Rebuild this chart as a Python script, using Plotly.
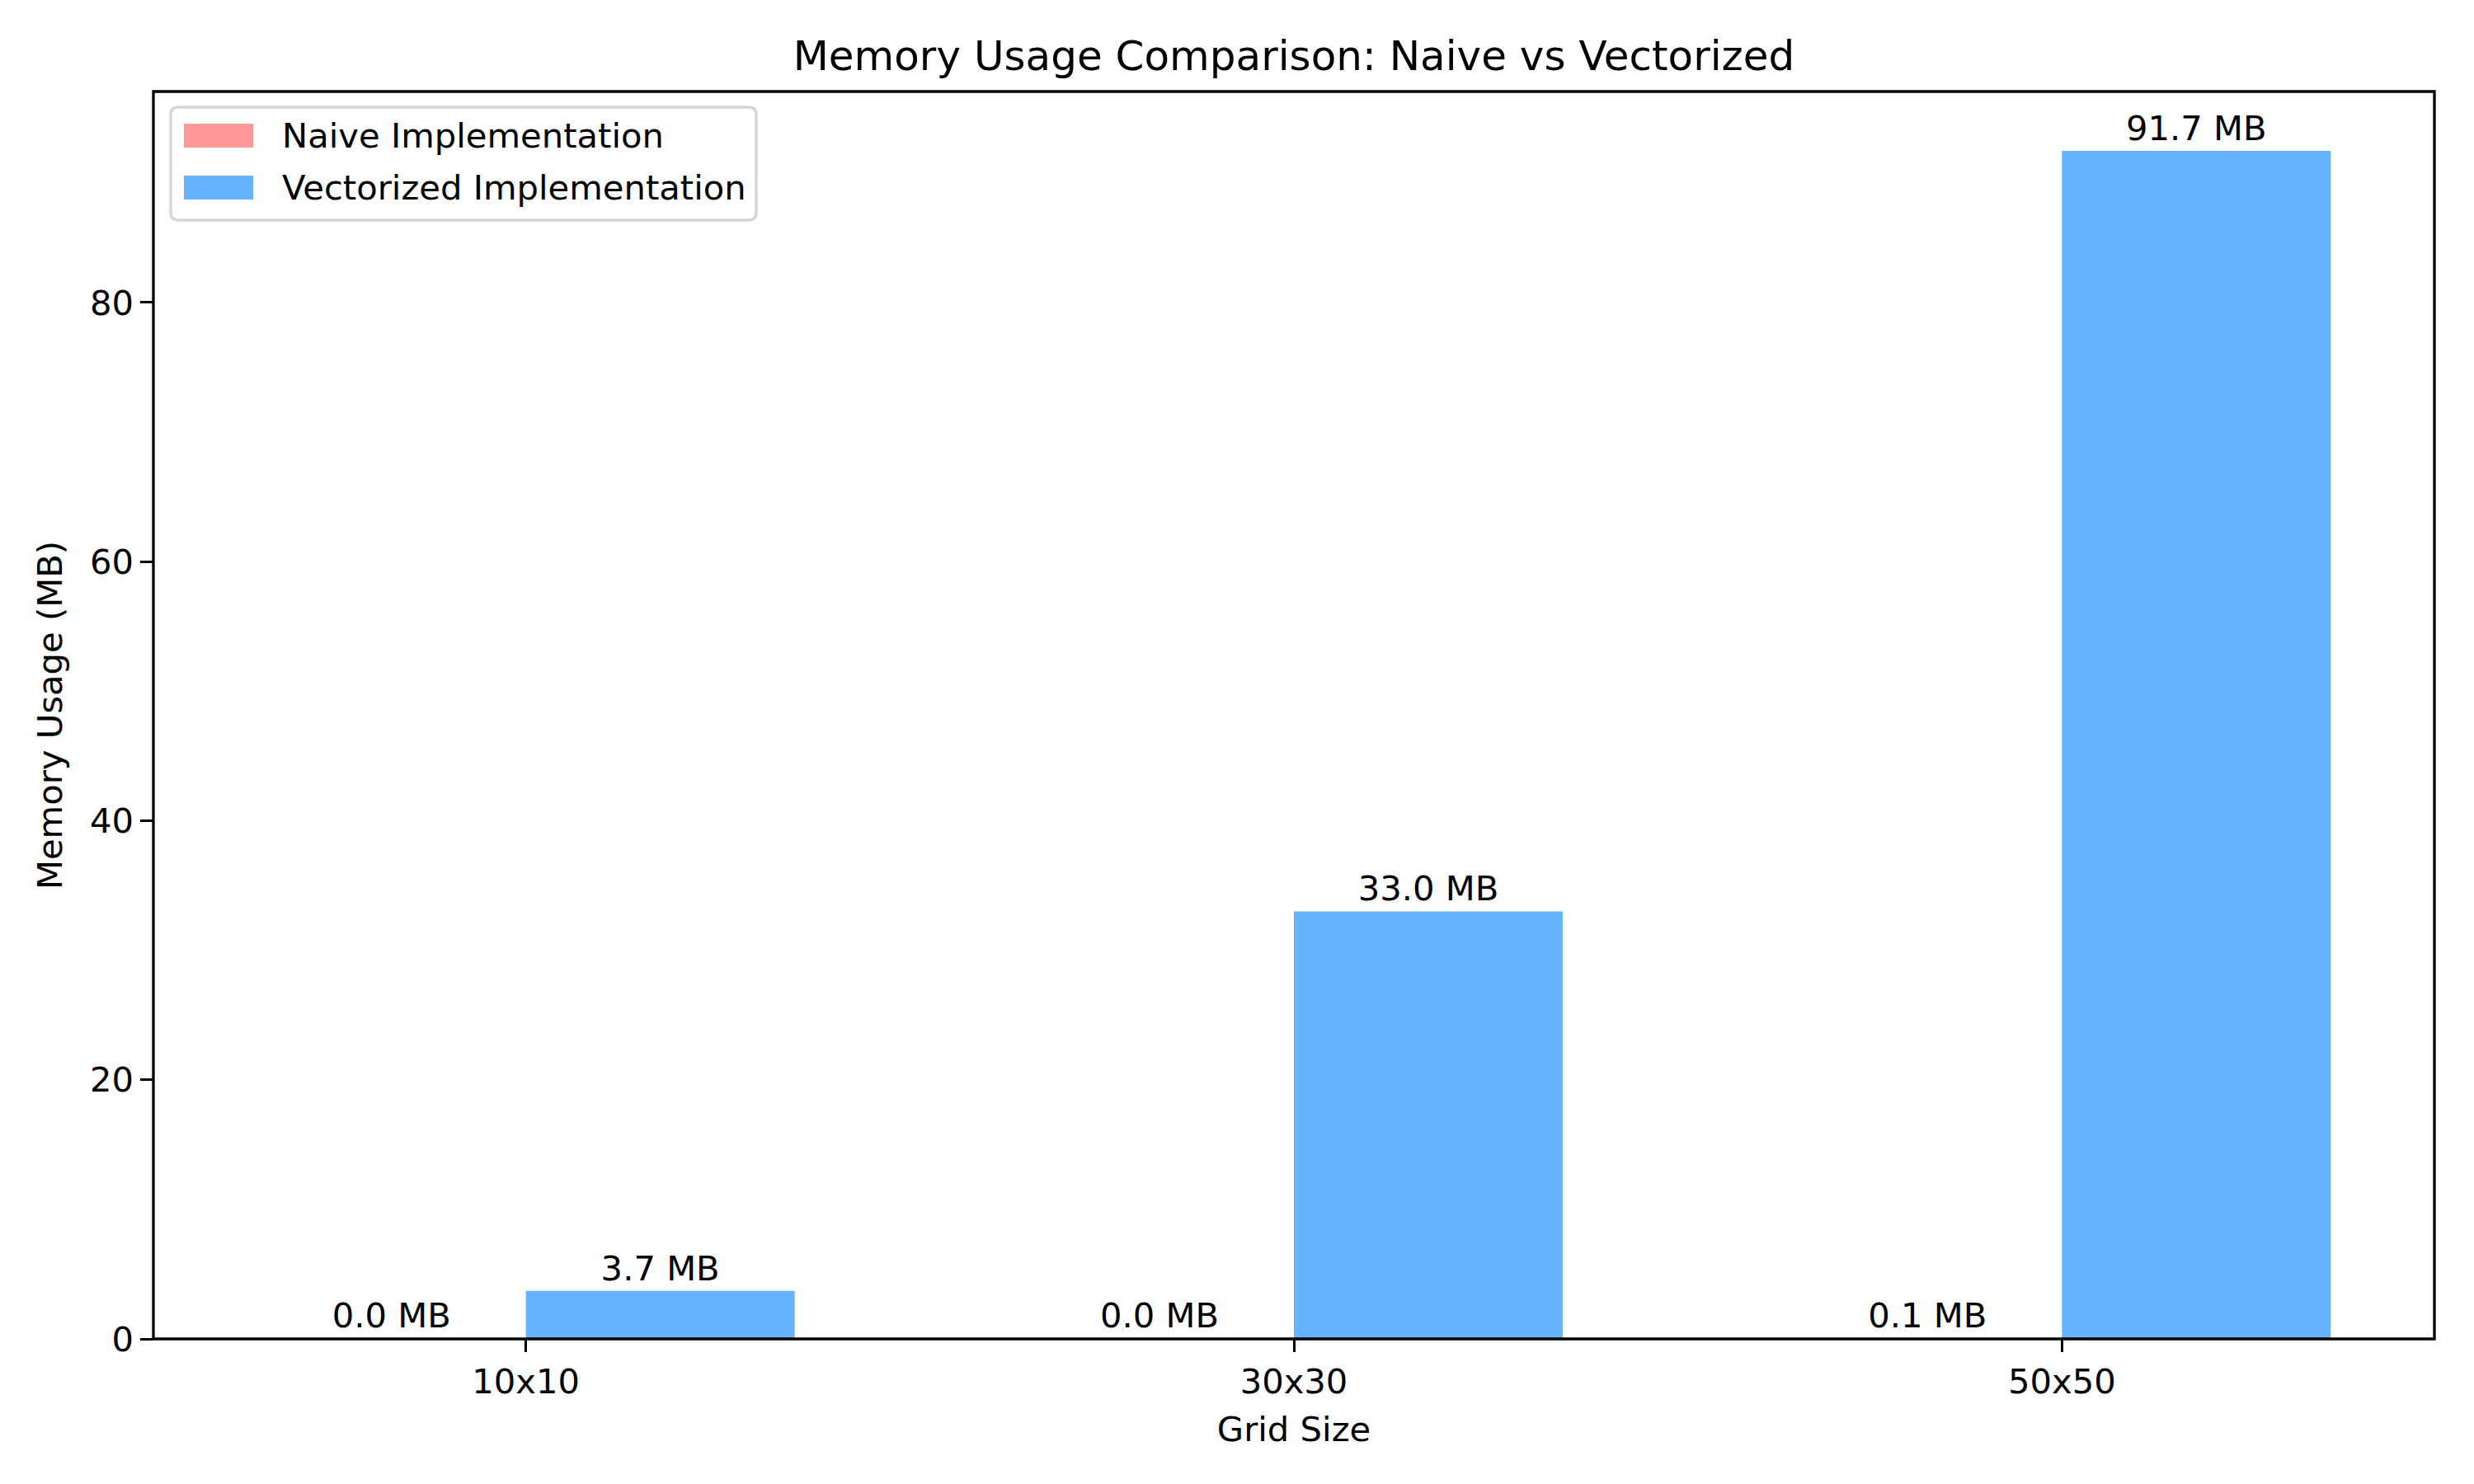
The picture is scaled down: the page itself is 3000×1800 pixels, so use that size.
import numpy as np
import plotly.graph_objects as go

categories = ["10x10", "30x30", "50x50"]
naive_mb = [0.01, 0.02, 0.06]
vectorized_mb = [3.7, 33.0, 91.7]
series_names = ["Naive Implementation", "Vectorized Implementation"]
series_colors = ["#ff9999", "#66b3ff"]

bar_w = 0.35
idx = np.arange(len(categories))
FONT = "DejaVu Sans"
FS = 41.7

# plot area in screen pixels (page has an 8px body offset)
PX0, PX1, PY0, PY1 = 186, 2952, 111, 1624
PW, PH = PX1 - PX0, PY1 - PY0
OFF = 8


def px(xp):
    return (xp - PX0) / PW


def py(yp):
    return (PY1 - yp) / PH


fig = go.Figure()
for name, vals, col, sign in [(series_names[0], naive_mb, series_colors[0], -1),
                              (series_names[1], vectorized_mb, series_colors[1], 1)]:
    fig.add_trace(go.Bar(
        x=idx + sign * bar_w / 2, y=vals, width=bar_w, name=name,
        marker=dict(color=col, line=dict(width=0)),
        text=[f"{v:.1f} MB" for v in vals], textposition="outside",
        textfont=dict(family=FONT, size=FS, color="black"), cliponaxis=False,
        showlegend=False,
    ))

ymax = max(max(naive_mb), max(vectorized_mb)) * 1.05

shapes = []
annotations = []
# axes frame (centered on the plot boundary, like matplotlib spines)
shapes.append(dict(type="rect", xref="paper", yref="paper", x0=0, x1=1, y0=0, y1=1,
                   line=dict(color="black", width=3.3), fillcolor="rgba(0,0,0,0)", layer="above"))

# manual matplotlib-style legend
bx0, bx1, by0, by1 = 207, 917, 130, 267
r = 9
rx, ry = r / PW, r / PH
X0, X1, Y0, Y1 = px(bx0), px(bx1), py(by0), py(by1)
path = (f"M {X0+rx},{Y0} L {X1-rx},{Y0} Q {X1},{Y0} {X1},{Y0-ry} "
        f"L {X1},{Y1+ry} Q {X1},{Y1} {X1-rx},{Y1} L {X0+rx},{Y1} "
        f"Q {X0},{Y1} {X0},{Y1+ry} L {X0},{Y0-ry} Q {X0},{Y0} {X0+rx},{Y0} Z")
shapes.append(dict(type="path", xref="paper", yref="paper", path=path,
                   fillcolor="rgba(255,255,255,0.8)", line=dict(color="#d6d6d6", width=3.5),
                   layer="above"))
rows = [(150, 179), (213, 242)]
for (y0, y1), name, col in zip(rows, series_names, series_colors):
    shapes.append(dict(type="rect", xref="paper", yref="paper",
                       x0=px(223), x1=px(307), y0=py(y1), y1=py(y0),
                       fillcolor=col, line=dict(width=0), layer="above"))
    annotations.append(dict(xref="paper", yref="paper", x=px(340), y=py((y0 + y1) / 2),
                            xanchor="left", yanchor="middle", text=name, showarrow=False,
                            font=dict(family=FONT, size=FS, color="black")))

fig.update_layout(
    width=3000, height=1800,
    margin=dict(l=PX0 - OFF, r=3000 - PX1 + OFF, t=PY0 - OFF, b=1800 - PY1 + OFF),
    paper_bgcolor="white", plot_bgcolor="white",
    font=dict(family=FONT, size=FS, color="black"),
    title=dict(text="Memory Usage Comparison: Naive vs Vectorized", x=0.5, xref="paper",
               xanchor="center", y=1 - (67 - OFF) / 1800, yanchor="middle",
               font=dict(size=50, family=FONT)),
    barmode="overlay",
    showlegend=False,
    shapes=shapes,
    annotations=annotations,
    xaxis=dict(range=[-0.485, 2.485], tickvals=list(idx), ticktext=categories,
               showgrid=False, zeroline=False, showline=False,
               ticks="outside", ticklen=14.6, tickwidth=3.3, tickcolor="black",
               tickfont=dict(size=FS), title=dict(text="Grid Size", font=dict(size=FS), standoff=20)),
    yaxis=dict(range=[0, ymax], tickvals=[0, 20, 40, 60, 80],
               showgrid=False, zeroline=False, showline=False,
               ticks="outside", ticklen=14.6, tickwidth=3.3, tickcolor="black",
               tickfont=dict(size=FS), title=dict(text="Memory Usage (MB)", font=dict(size=FS), standoff=20)),
)

fig.write_html("out.html")
